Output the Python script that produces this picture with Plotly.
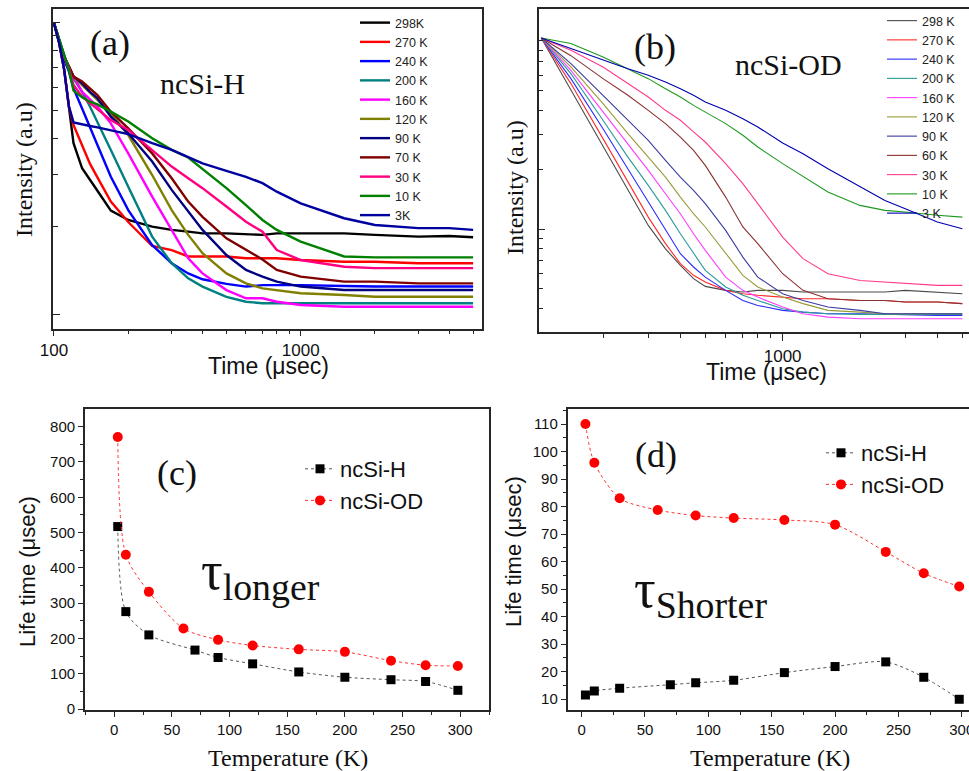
import plotly.graph_objects as go

W, H = 969, 771
SANS = "Arial, Liberation Sans, sans-serif"
SERIF = "Times New Roman, Liberation Serif, serif"

# ---------------- Panel (a): ncSi-H decay curves ----------------
# time in microseconds, intensity given as log10(I) in arbitrary units
t_a = [100, 105, 110, 115, 120, 130, 140, 150, 170, 200, 250, 300, 350, 400,
       500, 600, 700, 800, 1000, 1500, 2000, 3000, 4000, 5000]
a_298 = [.997, .928, .837, .700, .586, .500, .462, .423, .355, .323, .300, .289, .283, .277,
         .277, .275, .272, .277, .277, .277, .272, .266, .268, .264]
a_270 = [.997, .928, .837, .711, .648, .578, .515, .469, .386, .316, .234, .220, .198, .198,
         .198, .192, .192, .192, .186, .180, .180, .175, .175, .175]
a_240 = [.997, .934, .871, .831, .774, .705, .637, .580, .471, .357, .237, .175, .140, .120,
         .104, .095, .100, .100, .100, .097, .095, .095, .095, .095]
a_200 = [.997, .940, .882, .837, .808, .762, .711, .660, .563, .437, .266, .175, .123, .095,
         .060, .043, .038, .038, .038, .038, .038, .038, .038, .038]
a_160 = [.997, .940, .882, .848, .814, .762, .734, .711, .654, .551, .403, .289, .192, .140,
         .083, .055, .055, .043, .032, .026, .026, .026, .026, .026]
a_120 = [.997, .940, .882, .848, .814, .785, .757, .734, .688, .614, .477, .357, .272, .209,
         .140, .106, .089, .083, .072, .066, .060, .060, .060, .060]
a_90 = [.997, .940, .882, .848, .814, .791, .762, .740, .677, .620, .523, .426, .352, .289,
        .203, .152, .129, .112, .095, .083, .083, .083, .083, .083]
a_70 = [.997, .940, .882, .848, .814, .797, .774, .751, .694, .637, .551, .466, .386, .334,
        .260, .220, .188, .152, .129, .112, .112, .106, .106, .106]
a_30 = [.997, .940, .882, .842, .785, .745, .723, .705, .665, .631, .563, .506, .466, .432,
        .369, .317, .283, .220, .186, .163, .158, .158, .158, .158]
a_10 = [.997, .940, .882, .837, .766, .743, .728, .719, .694, .660, .603, .563, .537, .497,
        .432, .374, .323, .289, .249, .198, .195, .195, .195, .195]
a_3 = [.997, .928, .837, .711, .657, .652, .645, .640, .631, .617, .586, .563, .538, .517,
       .491, .471, .449, .420, .380, .329, .306, .295, .295, .289]
labels_a = ["298K", "270 K", "240 K", "200 K", "160 K", "120 K", "90 K", "70 K", "30 K", "10 K", "3K"]

# ---------------- Panel (b): ncSi-OD decay curves ----------------
t_b = [115, 150, 200, 250, 300, 350, 400, 450, 500, 600, 700, 800, 1000, 1200,
       1500, 2000, 2500, 3000, 4000, 5000]
b_298 = [.966, .702, .416, .197, .020, -.098, -.182, -.249, -.288, -.308, -.316, -.308, -.308, -.316,
         -.316, -.316, -.316, -.308, -.316, -.325]
b_270 = [.966, .736, .458, .239, .062, -.072, -.173, -.232, -.266, -.308, -.325, -.333, -.342, -.350,
         -.350, -.359, -.359, -.367, -.367, -.375]
b_240 = [.966, .761, .508, .306, .138, .003, -.123, -.190, -.241, -.308, -.359, -.384, -.409, -.418,
         -.426, -.426, -.429, -.429, -.434, -.434]
b_200 = [.966, .786, .551, .365, .222, .096, -.022, -.123, -.207, -.291, -.333, -.359, -.401, -.418,
         -.426, -.429, -.429, -.429, -.429, -.429]
b_160 = [.966, .803, .593, .433, .298, .180, .079, -.022, -.106, -.241, -.308, -.342, -.392, -.426,
         -.443, -.451, -.451, -.451, -.451, -.451]
b_120 = [.966, .820, .635, .483, .365, .264, .163, .079, .012, -.123, -.232, -.291, -.342, -.375,
         -.409, -.418, -.426, -.426, -.426, -.426]
b_90 = [.966, .837, .677, .551, .449, .348, .264, .197, .130, -.005, -.140, -.241, -.325, -.359,
        -.392, -.409, -.426, -.426, -.426, -.426]
b_60 = [.966, .877, .761, .677, .601, .534, .466, .399, .323, .163, .012, -.072, -.224, -.308,
        -.350, -.359, -.359, -.367, -.367, -.375]
b_30 = [.966, .904, .820, .736, .668, .601, .551, .492, .441, .332, .231, .130, -.039, -.148,
        -.224, -.258, -.266, -.274, -.283, -.283]
b_10 = [.966, .938, .870, .811, .761, .710, .668, .626, .593, .534, .475, .416, .332, .269,
        .189, .121, .096, .088, .071, .062]
b_3 = [.966, .912, .854, .811, .778, .744, .710, .677, .643, .601, .559, .517, .436, .382,
       .306, .214, .146, .104, .037, .003]
labels_b = ["298 K", "270 K", "240 K", "200 K", "160 K", "120 K", "90 K", "60 K", "30 K", "10 K", "3 K"]

# ---------------- Panels (c), (d): lifetimes ----------------
T_H = [3, 10, 30, 70, 90, 120, 160, 200, 240, 270, 298]
T_OD = [3, 10, 30, 60, 90, 120, 160, 200, 240, 270, 298]
tau_long_H = [517, 276, 210, 167, 146, 128, 105, 90, 83, 78, 53]
tau_long_OD = [771, 437, 332, 228, 196, 180, 169, 162, 137, 124, 122]
tau_short_H = [11.5, 12.9, 13.9, 15.2, 15.9, 16.8, 19.6, 21.8, 23.5, 17.9, 9.9]
tau_short_OD = [110, 95.9, 83, 78.7, 76.7, 75.8, 75.1, 73.4, 63.5, 55.7, 50.9]

# tick labels / tick values
xt_decay = [100, 1000]
xminor_decay = [200, 300, 400, 500, 600, 700, 800, 900, 2000, 3000, 4000, 5000]
temp_ticks = [0, 50, 100, 150, 200, 250, 300]
long_ticks = [0, 100, 200, 300, 400, 500, 600, 700, 800]
short_ticks = [10, 20, 30, 40, 50, 60, 70, 80, 90, 100, 110]

colors_a = ["#000000", "#ff0000", "#0000ff", "#008080", "#ff00ff", "#808000",
            "#000080", "#800000", "#ff0080", "#008000", "#0000a0"]
colors_b = ["#4a4a4a", "#ff2a2a", "#2a2aff", "#2a9a9a", "#ff3cff", "#9a9a3a",
            "#3c3ca0", "#8a3030", "#ff3c8c", "#1e9a1e", "#0000b0"]

fig = go.Figure()

for lab, arr, col in zip(labels_a, [a_298, a_270, a_240, a_200, a_160, a_120, a_90, a_70, a_30, a_10, a_3], colors_a):
    fig.add_trace(go.Scatter(x=t_a, y=[10 ** v for v in arr], mode="lines", name=lab,
                             line=dict(color=col, width=2.4), xaxis="x", yaxis="y", legend="legend"))

for lab, arr, col in zip(labels_b, [b_298, b_270, b_240, b_200, b_160, b_120, b_90, b_60, b_30, b_10, b_3], colors_b):
    fig.add_trace(go.Scatter(x=t_b, y=[10 ** v for v in arr], mode="lines", name=lab,
                             line=dict(color=col, width=1.1), xaxis="x2", yaxis="y2", legend="legend2"))

fig.add_trace(go.Scatter(x=T_H, y=tau_long_H, mode="lines+markers", name="ncSi-H",
                         line=dict(color="#555555", width=1, dash="dot", shape="spline", smoothing=0.8),
                         marker=dict(symbol="square", size=9, color="black"),
                         xaxis="x3", yaxis="y3", legend="legend3"))
fig.add_trace(go.Scatter(x=T_OD, y=tau_long_OD, mode="lines+markers", name="ncSi-OD",
                         line=dict(color="#ff3030", width=1, dash="dot", shape="spline", smoothing=0.8),
                         marker=dict(symbol="circle", size=10, color="#ff0000"),
                         xaxis="x3", yaxis="y3", legend="legend3"))
fig.add_trace(go.Scatter(x=T_H, y=tau_short_H, mode="lines+markers", name="ncSi-H",
                         line=dict(color="#555555", width=1, dash="dot", shape="spline", smoothing=0.8),
                         marker=dict(symbol="square", size=9, color="black"),
                         xaxis="x4", yaxis="y4", legend="legend4"))
fig.add_trace(go.Scatter(x=T_OD, y=tau_short_OD, mode="lines+markers", name="ncSi-OD",
                         line=dict(color="#ff3030", width=1, dash="dot", shape="spline", smoothing=0.8),
                         marker=dict(symbol="circle", size=10, color="#ff0000"),
                         xaxis="x4", yaxis="y4", legend="legend4"))


def px(x):
    return x / W


def py(y):
    return 1 - y / H


frame = dict(showline=True, mirror=True, linecolor="#262626", linewidth=1.8,
             showgrid=False, zeroline=False, tickcolor="#262626", tickwidth=1.3)
frame_open = dict(frame, mirror=False)

layout_axes = dict(
    xaxis=dict(domain=[px(53), px(482)], type="log", range=[1.996, 3.735], anchor="y",
               tickvals=xt_decay, ticktext=[str(v) for v in xt_decay], ticks="outside", ticklen=5,
               minor=dict(tickvals=xminor_decay, ticks="outside", ticklen=3, tickcolor="#262626"),
               tickfont=dict(family=SANS, size=17, color="#111"), **frame),
    yaxis=dict(domain=[py(329), py(9)], type="log", range=[-0.0503, 1.0455], anchor="x",
               tickvals=[1, 10], ticks="inside", ticklen=7, showticklabels=False,
               minor=dict(tickvals=[2, 3, 4, 5, 6, 7, 8, 9], ticks="inside", ticklen=5, tickcolor="#262626"),
               **frame),
    xaxis2=dict(domain=[px(538.5), 1.0], type="log", range=[2.050, 3.725], anchor="y2",
                tickvals=[1000], ticktext=["1000"], ticks="outside", ticklen=7,
                minor=dict(tickvals=xminor_decay, ticks="outside", ticklen=4, tickcolor="#262626"),
                tickfont=dict(family=SANS, size=17, color="#111"), **frame),
    yaxis2=dict(domain=[py(332.3), py(9.3)], type="log", range=[-0.5197, 1.1111], anchor="x2",
                tickvals=[1], ticks="inside", ticklen=7, showticklabels=False,
                minor=dict(tickvals=[0.4, 0.5, 0.6, 0.7, 0.8, 0.9, 2, 3, 4, 5, 6, 7, 8, 9],
                           ticks="inside", ticklen=5, tickcolor="#262626"),
                **frame_open),
    xaxis3=dict(domain=[px(85), px(489)], range=[-25.4, 325], anchor="y3",
                tickvals=temp_ticks, ticks="outside", ticklen=5,
                minor=dict(dtick=25, tick0=0, ticks="outside", ticklen=3, tickcolor="#262626"),
                tickfont=dict(family=SANS, size=15, color="#111"), **frame),
    yaxis3=dict(domain=[py(710), py(409.3)], range=[-2.8, 849.3], anchor="x3",
                tickvals=long_ticks, ticks="outside", ticklen=5,
                minor=dict(dtick=50, tick0=0, ticks="outside", ticklen=3, tickcolor="#262626"),
                tickfont=dict(family=SANS, size=15, color="#111"), **frame),
    xaxis4=dict(domain=[px(567.7), 1.0], range=[-11, 305.7], anchor="y4",
                tickvals=temp_ticks, ticks="outside", ticklen=5, ticklabeloverflow="allow",
                minor=dict(dtick=25, tick0=0, ticks="outside", ticklen=3, tickcolor="#262626"),
                tickfont=dict(family=SANS, size=15, color="#111"), **frame),
    yaxis4=dict(domain=[py(710), py(409.3)], range=[6.0, 115.35], anchor="x4",
                tickvals=short_ticks, ticks="outside", ticklen=5,
                minor=dict(dtick=5, tick0=0, ticks="outside", ticklen=3, tickcolor="#262626"),
                tickfont=dict(family=SANS, size=15, color="#111"), **frame_open),
)


def ann(text, x, y, size, family, angle=0, color="#111"):
    return dict(text=text, x=px(x), y=py(y), xref="paper", yref="paper", showarrow=False,
                xanchor="center", yanchor="middle", textangle=angle,
                font=dict(family=family, size=size, color=color))


annotations = [
    ann("(a)", 110, 43, 36, SERIF),
    ann("ncSi-H", 202, 83, 30, SERIF),
    ann("(b)", 655, 47, 36, SERIF),
    ann("ncSi-OD", 788, 64, 30, SERIF),
    ann("(c)", 177, 473, 36, SERIF),
    ann("(d)", 656, 455, 36, SERIF),
    ann("τ<sub>longer</sub>", 260, 574, 54, SERIF),
    ann("τ<sub>Shorter</sub>", 700, 592, 54, SERIF),
    ann("Time (μsec)", 268, 366, 23, SANS),
    ann("Time (μsec)", 766, 372, 23, SANS),
    ann("Intensity (a.u)", 24, 170, 24, SERIF, -90),
    ann("Intensity (a.u)", 515, 188, 24, SERIF, -90),
    ann("Life time (μsec)", 27, 572, 22, SANS, -90),
    ann("Life time (μsec)", 513, 552, 22, SANS, -90),
    ann("Temperature (K)", 288, 758, 24, SERIF),
    ann("Temperature (K)", 770, 758, 24, SERIF),
]

leg_common = dict(bgcolor="rgba(0,0,0,0)", borderwidth=0, tracegroupgap=0,
                  xanchor="left", yanchor="top")

fig.update_layout(
    width=W, height=H, margin=dict(l=0, r=0, t=0, b=0, autoexpand=False),
    paper_bgcolor="white", plot_bgcolor="white",
    showlegend=True,
    legend=dict(x=px(355), y=py(8), font=dict(family=SANS, size=12.5, color="#222"), **leg_common),
    legend2=dict(x=px(882), y=py(6), font=dict(family=SANS, size=12.5, color="#222"), **leg_common),
    legend3=dict(x=px(300), y=py(448), font=dict(family=SANS, size=22, color="#111"), **leg_common),
    legend4=dict(x=px(821), y=py(432), font=dict(family=SANS, size=22, color="#111"), **leg_common),
    annotations=annotations,
    **layout_axes,
)

fig.write_html("out.html", config={"displayModeBar": False},
               post_script="document.body.style.margin='0px';")
